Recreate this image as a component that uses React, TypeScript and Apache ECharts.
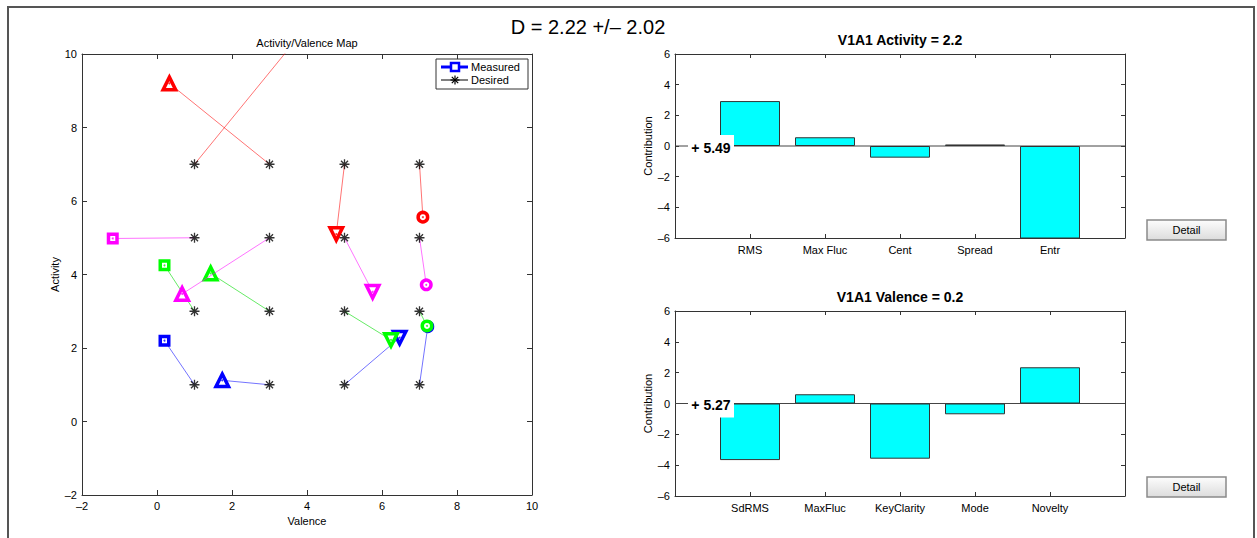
import React, { useEffect, useRef } from "react";
import * as echarts from "echarts";

const mainTitle = "D = 2.22 +/– 2.02";
const mapTitle = "Activity/Valence Map";
const mapXName = "Valence";
const mapYName = "Activity";
const legendMeasured = "Measured";
const legendDesired = "Desired";

// desired grid
const desiredX = [1, 3, 5, 7];
const desiredY = [7, 5, 3, 1];

// measured positions, one list per desired row (y = 7, 5, 3, 1), one entry per column (x = 1, 3, 5, 7)
const measuredRow7 = [[4.2, 11.0], [0.33, 9.2], [4.78, 5.1], [7.09, 5.56]];
const measuredRow5 = [[-1.18, 4.98], [0.67, 3.47], [5.75, 3.53], [7.18, 3.72]];
const measuredRow3 = [[0.2, 4.25], [1.43, 4.03], [6.24, 2.22], [7.2, 2.6]];
const measuredRow1 = [[0.2, 2.2], [1.74, 1.12], [6.47, 2.28], [7.22, 2.58]];

const activityTitle = "V1A1 Activity = 2.2";
const activityCats = ["RMS", "Max Fluc", "Cent", "Spread", "Entr"];
const activityValues = [2.93, 0.57, -0.76, 0.1, -6.3];
const activityOffset = "+ 5.49";

const valenceTitle = "V1A1 Valence = 0.2";
const valenceCats = ["SdRMS", "MaxFluc", "KeyClarity", "Mode", "Novelty"];
const valenceValues = [-3.67, 0.6, -3.58, -0.7, 2.35];
const valenceOffset = "+ 5.27";

const detailLabel = "Detail";

const FONT = "'Liberation Sans', Arial, Helvetica, sans-serif";
const AX = "#333";

const rows = [
  { pts: measuredRow1, y: desiredY[3], color: "#0000ff", line: "rgba(0,0,255,0.55)" },
  { pts: measuredRow3, y: desiredY[2], color: "#00ff00", line: "rgba(0,220,0,0.6)" },
  { pts: measuredRow5, y: desiredY[1], color: "#ff00ff", line: "rgba(255,0,255,0.55)" },
  { pts: measuredRow7, y: desiredY[0], color: "#ff0000", line: "rgba(255,0,0,0.55)" },
];
const colSymbol = ["rect", "triangle", "triangle", "circle"];
const colRotate = [0, 0, 180, 0];
const colSize = [8.5, 12.5, 12.5, 9.5];

const ASTERISK = "path://M0,5L10,5M5,0L5,10M1.46,1.46L8.54,8.54M8.54,1.46L1.46,8.54";

const dash = (v: number) => String(v).replace("-", "–");

function axisCommon(showLabel: boolean) {
  return {
    axisLine: { show: true, onZero: false, lineStyle: { color: AX, width: 1 } },
    axisTick: { show: true, inside: true, length: 5, lineStyle: { color: AX } },
    splitLine: { show: false },
    axisLabel: { show: showLabel, color: "#000", fontSize: 11, fontFamily: FONT, margin: 5 },
  };
}

export default function App() {
  const ref = useRef<HTMLDivElement>(null);
  useEffect(() => {
    if (!ref.current) return;
    const chart = echarts.init(ref.current, null, { renderer: "svg" });

    const series: any[] = [];
    // map: connecting lines + measured markers
    rows.forEach((row, ri) => {
      row.pts.forEach((p, ci) => {
        series.push({
          type: "line",
          xAxisIndex: 0,
          yAxisIndex: 0,
          clip: true,
          showSymbol: true,
          showAllSymbol: true,
          lineStyle: { color: row.line, width: 1 },
          itemStyle: { color: "#fff", borderColor: row.color, borderWidth: 3.5 },
          symbolRotate: colRotate[ci],
          symbolSize: colSize[ci],
          data: [
            { value: [desiredX[ci], row.y], symbol: "none" },
            { value: p, symbol: colSymbol[ci] },
          ],
          z: 3 + ri,
        });
      });
      // tiny centre dot of each measured marker
      series.push({
        type: "scatter",
        xAxisIndex: 0,
        yAxisIndex: 0,
        clip: true,
        symbol: "circle",
        symbolSize: 2,
        itemStyle: { color: row.color },
        data: row.pts,
        z: 3 + ri,
      });
    });
    // desired asterisks
    const desired: number[][] = [];
    desiredY.forEach((y) => desiredX.forEach((x) => desired.push([x, y])));
    series.push({
      type: "scatter",
      xAxisIndex: 0,
      yAxisIndex: 0,
      symbol: ASTERISK,
      symbolSize: 10,
      itemStyle: { color: "#000", borderColor: "#000", borderWidth: 1.3 },
      data: desired,
      z: 10,
    });

    const barBlock = (xi: number, yi: number, vals: number[], label: string) => {
      series.push({
        type: "line",
        xAxisIndex: xi,
        yAxisIndex: yi,
        data: [[0, 0], [6, 0]],
        symbol: "none",
        lineStyle: { color: "#444", width: 1 },
        z: 1,
      });
      series.push({
        type: "bar",
        xAxisIndex: xi,
        yAxisIndex: yi,
        barWidth: 60,
        clip: true,
        itemStyle: { color: "#00ffff", borderColor: "#333", borderWidth: 1 },
        data: vals.map((v, i) => [i + 1, v]),
        z: 2,
        markPoint: {
          silent: true,
          symbol: "rect",
          symbolSize: [46, 25],
          itemStyle: { color: "#fff" },
          label: {
            show: true,
            position: "inside",
            formatter: () => label,
            color: "#000",
            fontWeight: "bold",
            fontSize: 14,
            fontFamily: FONT,
          },
          data: [{ coord: [0.48, -0.1] }],
        },
      });
    };
    barBlock(2, 2, activityValues, activityOffset);
    barBlock(4, 4, valenceValues, valenceOffset);

    const catAxis = (gi: number, pos: string, cats: string[], showLabel: boolean) => ({
      type: "value",
      gridIndex: gi,
      position: pos,
      min: 0,
      max: 6,
      interval: 1,
      ...axisCommon(showLabel),
      axisTick: { show: true, inside: true, length: 4, lineStyle: { color: AX } },
      axisLabel: {
        show: showLabel,
        color: "#000",
        fontSize: 11,
        fontFamily: FONT,
        margin: 6,
        formatter: (v: number) => cats[v - 1] ?? "",
      },
    });
    const contribAxis = (gi: number, pos: string, showLabel: boolean) => ({
      type: "value",
      gridIndex: gi,
      position: pos,
      min: -6,
      max: 6,
      interval: 2,
      ...axisCommon(showLabel),
      axisTick: { show: true, inside: true, length: 4, lineStyle: { color: AX } },
      axisLabel: { show: showLabel, color: "#000", fontSize: 11, fontFamily: FONT, margin: 5, formatter: dash },
      name: showLabel ? "Contribution" : "",
      nameLocation: "middle",
      nameGap: 22,
      nameTextStyle: { color: "#000", fontSize: 11, fontFamily: FONT },
    });

    const txt = (text: string, x: number, y: number, size: number, weight = "normal", align = "center") => ({
      type: "text",
      x,
      y,
      z: 100,
      style: { text, fontSize: size, fontFamily: FONT, fontWeight: weight, fill: "#000", align, verticalAlign: "middle" },
    });
    const button = (y: number) => [
      {
        type: "rect",
        z: 100,
        shape: { x: 1147, y, width: 79, height: 20 },
        style: {
          fill: new echarts.graphic.LinearGradient(0, 0, 0, 1, [
            { offset: 0, color: "#fdfdfd" },
            { offset: 1, color: "#dcdcdc" },
          ]),
          stroke: "#8a8a8a",
          lineWidth: 1.5,
        },
      },
      txt(detailLabel, 1186.5, y + 10, 11),
    ];
    const astLines = (cx: number, cy: number) => {
      const r = 4.5, d = 3.2;
      return [
        [cx - r, cy, cx + r, cy],
        [cx, cy - r, cx, cy + r],
        [cx - d, cy - d, cx + d, cy + d],
        [cx + d, cy - d, cx - d, cy + d],
      ].map((s) => ({
        type: "line",
        z: 101,
        shape: { x1: s[0], y1: s[1], x2: s[2], y2: s[3] },
        style: { stroke: "#000", lineWidth: 1.2 },
      }));
    };

    const option: any = {
      animation: false,
      textStyle: { fontFamily: FONT },
      grid: [
        { left: 82, top: 54, width: 450, height: 441 },
        { left: 675, top: 54, width: 450, height: 184 },
        { left: 675, top: 311, width: 450, height: 185 },
      ],
      xAxis: [
        {
          type: "value", gridIndex: 0, position: "bottom", min: -2, max: 10, interval: 2,
          ...axisCommon(true),
          axisLabel: { color: "#000", fontSize: 11, fontFamily: FONT, margin: 5, formatter: dash },
          name: mapXName, nameLocation: "middle", nameGap: 14,
          nameTextStyle: { color: "#000", fontSize: 11, fontFamily: FONT },
        },
        { type: "value", gridIndex: 0, position: "top", min: -2, max: 10, interval: 2, ...axisCommon(false) },
        catAxis(1, "bottom", activityCats, true),
        catAxis(1, "top", activityCats, false),
        catAxis(2, "bottom", valenceCats, true),
        catAxis(2, "top", valenceCats, false),
      ],
      yAxis: [
        {
          type: "value", gridIndex: 0, position: "left", min: -2, max: 10, interval: 2,
          ...axisCommon(true),
          axisLabel: { color: "#000", fontSize: 11, fontFamily: FONT, margin: 5, formatter: dash },
          name: mapYName, nameLocation: "middle", nameGap: 20,
          nameTextStyle: { color: "#000", fontSize: 11, fontFamily: FONT },
        },
        { type: "value", gridIndex: 0, position: "right", min: -2, max: 10, interval: 2, ...axisCommon(false) },
        contribAxis(1, "left", true),
        contribAxis(1, "right", false),
        contribAxis(2, "left", true),
        contribAxis(2, "right", false),
      ],
      series,
      graphic: [
        {
          type: "rect",
          z: 0,
          shape: { x: 8, y: 7, width: 1246, height: 545 },
          style: { fill: "none", stroke: "#555", lineWidth: 2 },
        },
        txt(mainTitle, 588, 27, 20),
        txt(mapTitle, 307, 43, 11),
        txt(activityTitle, 900, 40, 14, "bold"),
        txt(valenceTitle, 900, 297, 14, "bold"),
        ...button(220),
        ...button(477),
        {
          type: "rect",
          z: 100,
          shape: { x: 436, y: 59, width: 92, height: 30 },
          style: { fill: "#fff", stroke: "#333", lineWidth: 1 },
        },
        {
          type: "line", z: 101,
          shape: { x1: 441, y1: 67, x2: 468, y2: 67 },
          style: { stroke: "#0000ff", lineWidth: 3 },
        },
        {
          type: "rect", z: 102,
          shape: { x: 451, y: 63, width: 8, height: 8 },
          style: { fill: "#fff", stroke: "#0000ff", lineWidth: 2.5 },
        },
        txt(legendMeasured, 471, 67, 11, "normal", "left"),
        {
          type: "line", z: 101,
          shape: { x1: 441, y1: 80, x2: 468, y2: 80 },
          style: { stroke: "#000", lineWidth: 1 },
        },
        ...astLines(455, 80),
        txt(legendDesired, 471, 80, 11, "normal", "left"),
      ],
    };
    chart.setOption(option);
    return () => chart.dispose();
  }, []);

  return (
    <div
      ref={ref}
      style={{ position: "fixed", left: 0, top: 0, width: 1257, height: 538, background: "#fff" }}
    />
  );
}
